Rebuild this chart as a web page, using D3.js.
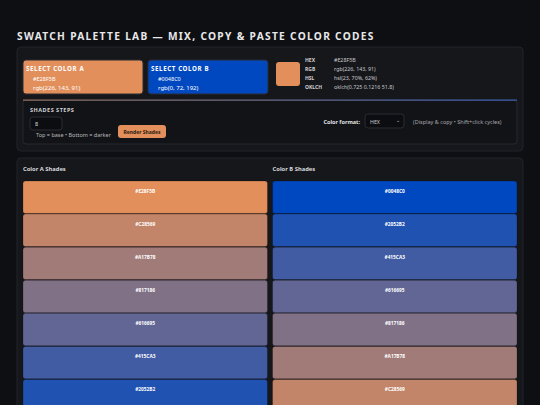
<!DOCTYPE html>
<html><head><meta charset="utf-8">
<script src="https://cdn.jsdelivr.net/npm/d3@7"></script>
<style>
body{margin:0;background:#0e0f12;font-family:"Noto Sans",sans-serif;overflow:hidden}
</style></head><body>
<svg id="c" width="540" height="405"></svg>
<script>
const shadesA = ["#E28F5B","#C28569","#A17B78","#817186","#616695","#415CA3","#2052B2","#0048C0"];
const shadesB = ["#0048C0","#2052B2","#415CA3","#616695","#817186","#A17B78","#C28569","#E28F5B"];
const columns = ["Color A Shades","Color B Shades"];
const infoLabels = ["HEX","RGB","HSL","OKLCH"];
const infoValues = ["#E28F5B","rgb(226, 143, 91)","hsl(23, 70%, 62%)","oklch(0.725 0.1216 51.8)"];

const svg = d3.select("#c");
svg.append("text").attr("x",17).attr("y",40).attr("fill","#e8e8ea").attr("font-size",10.2)
  .attr("font-weight",700).attr("letter-spacing",1.3).text("SWATCH PALETTE LAB — MIX, COPY & PASTE COLOR CODES");
svg.append("rect").attr("x",17).attr("y",47).attr("width",506).attr("height",104).attr("rx",4)
  .attr("fill","#16171b").attr("stroke","#22242a");
function colorBox(x,fill,title,hex,rgb){
  svg.append("rect").attr("x",x).attr("y",60).attr("width",120).attr("height",34).attr("rx",3).attr("fill",fill).attr("stroke","#2a2c33");
  svg.append("text").attr("x",x+3).attr("y",71).attr("fill","#fff").attr("font-size",6.2).attr("font-weight",700).attr("letter-spacing",0.6).text(title);
  svg.append("text").attr("x",x+10).attr("y",81).attr("fill","#fff").attr("font-size",5.5).text(hex);
  svg.append("text").attr("x",x+10).attr("y",90).attr("fill","#fff").attr("font-size",6).text(rgb);
}
colorBox(23,"#E28F5B","SELECT COLOR A","#E28F5B","rgb(226, 143, 91)");
colorBox(148,"#0048C0","SELECT COLOR B","#0048C0","rgb(0, 72, 192)");
svg.append("rect").attr("x",276).attr("y",62).attr("width",24).attr("height",24).attr("rx",3).attr("fill","#E28F5B");
const iy = d3.scalePoint().domain(infoLabels).range([60,87]);
infoLabels.forEach((l,i)=>{
  svg.append("text").attr("x",305).attr("y",iy(l)+2).attr("fill","#d0d0d4").attr("font-size",5).attr("font-weight",700).text(l);
  svg.append("text").attr("x",334).attr("y",iy(l)+2).attr("fill","#c8c8cc").attr("font-size",5.3).text(infoValues[i]);
});
svg.append("rect").attr("x",23).attr("y",100).attr("width",494).attr("height",44).attr("rx",3).attr("fill","#121317").attr("stroke","#262830");
const g = svg.append("defs").append("linearGradient").attr("id","gl");
g.append("stop").attr("offset","0").attr("stop-color","#8a6a58");
g.append("stop").attr("offset","1").attr("stop-color","#3a5aa8");
svg.append("rect").attr("x",23).attr("y",99.5).attr("width",494).attr("height",1.3).attr("fill","url(#gl)");
svg.append("text").attr("x",30).attr("y",112).attr("fill","#d0d0d4").attr("font-size",5.5).attr("font-weight",700).attr("letter-spacing",0.5).text("SHADES STEPS");
svg.append("rect").attr("x",30).attr("y",117).attr("width",32).attr("height",13).attr("rx",3).attr("fill","#0c0d10").attr("stroke","#2a2c33");
svg.append("text").attr("x",35).attr("y",126).attr("fill","#ddd").attr("font-size",5.5).text("8");
svg.append("text").attr("x",36).attr("y",137).attr("fill","#b8b8bc").attr("font-size",5.5).text("Top = base • Bottom = darker");
svg.append("rect").attr("x",118).attr("y",125).attr("width",48).attr("height",13).attr("rx",3).attr("fill","#E28F5B");
svg.append("text").attr("x",142).attr("y",133.5).attr("text-anchor","middle").attr("fill","#2a1a10").attr("font-size",5).attr("font-weight",700).text("Render Shades");
svg.append("text").attr("x",360).attr("y",124).attr("text-anchor","end").attr("fill","#e0e0e4").attr("font-size",5.5).attr("font-weight",700).text("Color format:");
svg.append("rect").attr("x",365).attr("y",114).attr("width",39).attr("height",14).attr("rx",3).attr("fill","#0c0d10").attr("stroke","#2a2c33");
svg.append("text").attr("x",370).attr("y",123.5).attr("fill","#ccc").attr("font-size",5.3).text("HEX");
svg.append("text").attr("x",396).attr("y",122).attr("fill","#ccc").attr("font-size",5).text("⌄");
svg.append("text").attr("x",413).attr("y",124).attr("fill","#a8a8ac").attr("font-size",5.5).text("(Display & copy • Shift+click cycles)");
svg.append("rect").attr("x",17).attr("y",158).attr("width",506).attr("height",260).attr("rx",4).attr("fill","#16171b").attr("stroke","#22242a");
const xc = d3.scaleBand().domain(columns).range([23,517]).paddingInner(0.0205);
const y = d3.scaleBand().domain(d3.range(8)).range([181,181+33*8]).paddingInner(0.02);
[shadesA,shadesB].forEach((arr,ci)=>{
  const col = columns[ci];
  svg.append("text").attr("x",xc(col)).attr("y",171).attr("fill","#d8d8dc").attr("font-size",5.8).attr("font-weight",700).text(col);
  const gg = svg.append("g");
  gg.selectAll("rect").data(arr).join("rect").attr("x",xc(col)).attr("y",(d,i)=>y(i))
    .attr("width",xc.bandwidth()).attr("height",y.bandwidth()).attr("rx",2.5).attr("fill",d=>d)
    .attr("stroke","rgba(0,0,0,0.35)").attr("stroke-width",0.6);
  gg.selectAll("text").data(arr.filter((d,i)=>y(i)+12<400)).join("text").attr("x",xc(col)+xc.bandwidth()/2).attr("y",(d,i)=>y(i)+12)
    .attr("text-anchor","middle").attr("fill","#fff").attr("font-size",4.8).attr("font-weight",700).text(d=>d);
});
</script></body></html>
